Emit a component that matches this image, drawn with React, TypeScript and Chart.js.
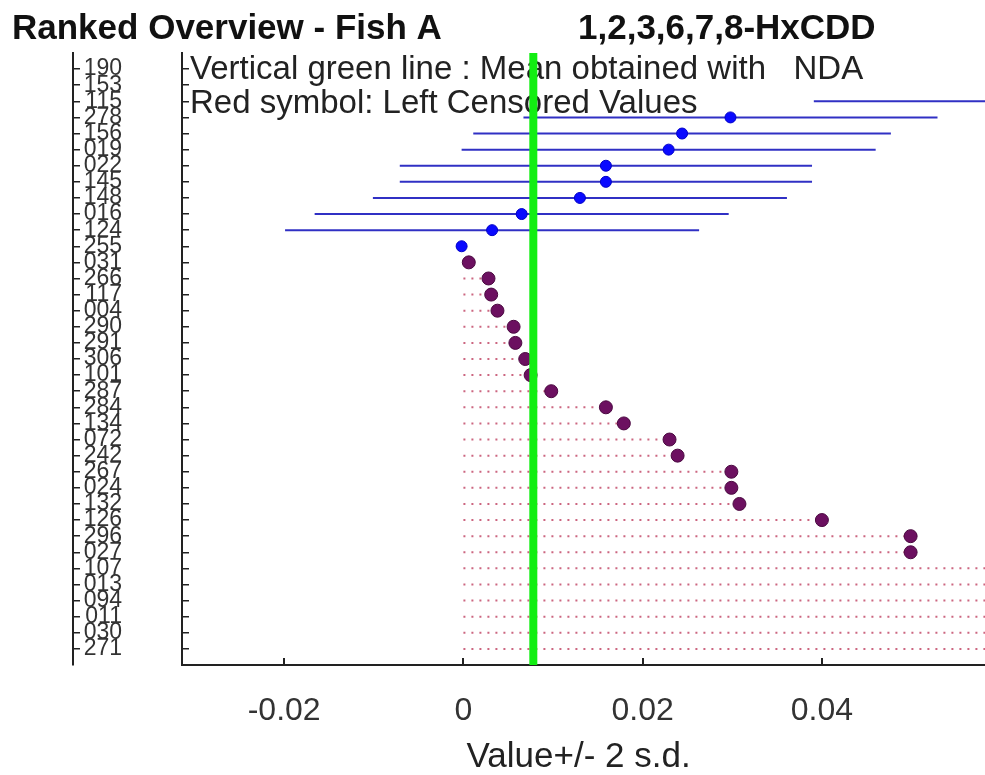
import React, { useEffect, useRef } from 'react';
import Chart from 'chart.js/auto';

const FONT = '"Liberation Sans", Arial, Helvetica, sans-serif';

// Sample codes, ranked from top to bottom
const sampleLabels = [
  '190', '153', '115', '278', '156', '019', '022', '145', '148', '016', '124', '255',
  '031', '266', '117', '004', '290', '291', '306', '101', '287', '284', '134', '072',
  '242', '267', '024', '132', '126', '296', '027', '107', '013', '094', '011', '030', '271',
];

// Quantified results (blue) for the first 12 ranks
const quantifiedValues = [0.095, 0.085, 0.0621, 0.0298, 0.0244, 0.0229, 0.0159, 0.0159, 0.013, 0.0065, 0.0032, -0.0002];
// 2 standard deviations for the quantified results
const quantifiedTwoSd = [0.023, 0.023, 0.023, 0.0231, 0.0233, 0.0231, 0.023, 0.023, 0.0231, 0.0231, 0.0231, 0];

// Left-censored results (red/purple symbols) for the remaining ranks
const censoredValues = [
  0.0006, 0.0028, 0.0031, 0.0038, 0.0056, 0.0058, 0.0069, 0.0075, 0.0098, 0.0159,
  0.0179, 0.023, 0.0239, 0.0299, 0.0299, 0.0308, 0.04, 0.0499, 0.0499,
  0.062, 0.066, 0.07, 0.075, 0.08, 0.09,
];

const meanNDA = 0.0078;

const xTickValues = [-0.02, 0, 0.02, 0.04];
const xMin = -0.0314;
const xMax = 0.0582;
const yMin = -1;
const yMax = 37;

const titleLeft = 'Ranked Overview - Fish A';
const titleRight = '1,2,3,6,7,8-HxCDD';
const xAxisTitle = 'Value+/- 2 s.d.';
const noteLines = [
  'Vertical green line : Mean obtained with   NDA',
  'Red symbol: Left Censored Values',
];

const AXIS_COLOR = '#222';
const BLUE_LINE = '#3030c4';
const BLUE_POINT = '#0a0aff';
const PURPLE_POINT = '#6c1060';
const DOT_COLOR = '#cc6680';
const GREEN = '#12ee12';

const notesPlugin = {
  id: 'notes',
  beforeDatasetsDraw(chart: any) {
    const { ctx, chartArea } = chart;
    ctx.save();
    ctx.font = `33px ${FONT}`;
    ctx.fillStyle = '#222';
    ctx.textBaseline = 'alphabetic';
    ctx.textAlign = 'left';
    ctx.fillText(noteLines[0], chartArea.left + 8, chartArea.top + 26);
    ctx.fillText(noteLines[1], chartArea.left + 8, chartArea.top + 60);
    ctx.restore();
  },
};

function buildDatasets() {
  const datasets: any[] = [];
  // mean line (on top)
  datasets.push({
    label: 'mean',
    data: [{ x: meanNDA, y: yMin }, { x: meanNDA, y: yMax }],
    showLine: true,
    borderColor: GREEN,
    borderWidth: 8,
    pointRadius: 0,
    order: 0,
  });
  // quantified points
  datasets.push({
    label: 'quantified',
    data: quantifiedValues.map((v, i) => ({ x: v, y: i })),
    showLine: false,
    pointRadius: 5.5,
    pointBackgroundColor: BLUE_POINT,
    pointBorderColor: '#0000c8',
    pointBorderWidth: 1,
    order: 1,
  });
  // censored points
  datasets.push({
    label: 'censored',
    data: censoredValues.map((v, j) => ({ x: v, y: j + quantifiedValues.length })),
    showLine: false,
    pointRadius: 6.5,
    pointBackgroundColor: PURPLE_POINT,
    pointBorderColor: '#4a0840',
    pointBorderWidth: 1,
    order: 1,
  });
  // +/- 2 s.d. bars
  quantifiedValues.forEach((v, i) => {
    const sd = quantifiedTwoSd[i];
    if (!sd) return;
    datasets.push({
      label: 'bar' + i,
      data: [{ x: v - sd, y: i }, { x: v + sd, y: i }],
      showLine: true,
      borderColor: BLUE_LINE,
      borderWidth: 2,
      pointRadius: 0,
      order: 2,
    });
  });
  // dotted lines for censored values, from 0 to the value
  censoredValues.forEach((v, j) => {
    const y = j + quantifiedValues.length;
    datasets.push({
      label: 'dots' + j,
      data: [{ x: 0, y }, { x: v, y }],
      showLine: true,
      borderColor: DOT_COLOR,
      borderWidth: 2,
      borderDash: [2, 6],
      pointRadius: 0,
      order: 3,
    });
  });
  return datasets;
}

export default function App() {
  const canvasRef = useRef<HTMLCanvasElement | null>(null);

  useEffect(() => {
    if (!canvasRef.current) return;
    const rowTicks = () => sampleLabels.map((_, i) => ({ value: i }));
    const chart = new Chart(canvasRef.current, {
      type: 'scatter',
      data: { datasets: buildDatasets() },
      options: {
        responsive: false,
        animation: false,
        events: [],
        layout: { autoPadding: false, padding: { left: 12, right: 0, top: 0, bottom: 0 } },
        plugins: {
          legend: { display: false },
          tooltip: { enabled: false },
          title: {
            display: true,
            text: titleLeft + ' '.repeat(14) + titleRight,
            align: 'start',
            color: '#111',
            font: { family: FONT, size: 35, weight: 'bold' },
            padding: { top: 8, bottom: 3 },
          },
        },
        scales: {
          x: {
            type: 'linear',
            position: 'bottom',
            min: xMin,
            max: xMax,
            afterBuildTicks: (scale: any) => {
              scale.ticks = xTickValues.map((value) => ({ value }));
            },
            afterFit: (scale: any) => {
              scale.height = 110;
              scale.paddingLeft = 0;
              scale.paddingRight = 0;
            },
            ticks: {
              color: '#333',
              font: { family: FONT, size: 32 },
              padding: 34,
              autoSkip: false,
              maxRotation: 0,
              callback: (v: any) => String(Number(Number(v).toFixed(2))),
            },
            grid: { drawOnChartArea: false, drawTicks: true, tickLength: -7, color: AXIS_COLOR, lineWidth: 2 },
            border: { display: true, color: AXIS_COLOR, width: 2 },
            title: {
              display: true,
              text: xAxisTitle + ' ',
              color: '#222',
              font: { family: FONT, size: 35, lineHeight: 1 },
              padding: { top: 0, bottom: 0 },
            },
          },
          y: {
            type: 'linear',
            position: 'left',
            reverse: true,
            min: yMin,
            max: yMax,
            weight: 0,
            afterBuildTicks: (scale: any) => {
              scale.ticks = rowTicks();
            },
            afterFit: (scale: any) => {
              scale.width = 109;
              scale.paddingTop = 0;
              scale.paddingBottom = 0;
            },
            ticks: {
              color: '#333',
              font: { family: FONT, size: 23 },
              padding: 67,
              autoSkip: false,
              callback: (v: any) => sampleLabels[v] ?? '',
            },
            grid: { drawOnChartArea: false, drawTicks: true, tickLength: -7, color: AXIS_COLOR, lineWidth: 1.5 },
            border: { display: true, color: AXIS_COLOR, width: 2 },
          },
          y2: {
            type: 'linear',
            position: 'left',
            reverse: true,
            min: yMin,
            max: yMax,
            weight: 10,
            afterBuildTicks: (scale: any) => {
              scale.ticks = rowTicks();
            },
            afterFit: (scale: any) => {
              scale.width = 61;
              scale.paddingTop = 0;
              scale.paddingBottom = 0;
            },
            ticks: { display: false },
            grid: { drawOnChartArea: false, drawTicks: true, tickLength: -7, color: AXIS_COLOR, lineWidth: 1.5 },
            border: { display: true, color: AXIS_COLOR, width: 2 },
          },
        },
      } as any,
      plugins: [notesPlugin],
    });
    return () => chart.destroy();
  }, []);

  return (
    <div style={{ position: 'absolute', left: 0, top: 0, width: 985, height: 775, background: '#fff' }}>
      <canvas ref={canvasRef} width={985} height={775} style={{ display: 'block' }} />
    </div>
  );
}
